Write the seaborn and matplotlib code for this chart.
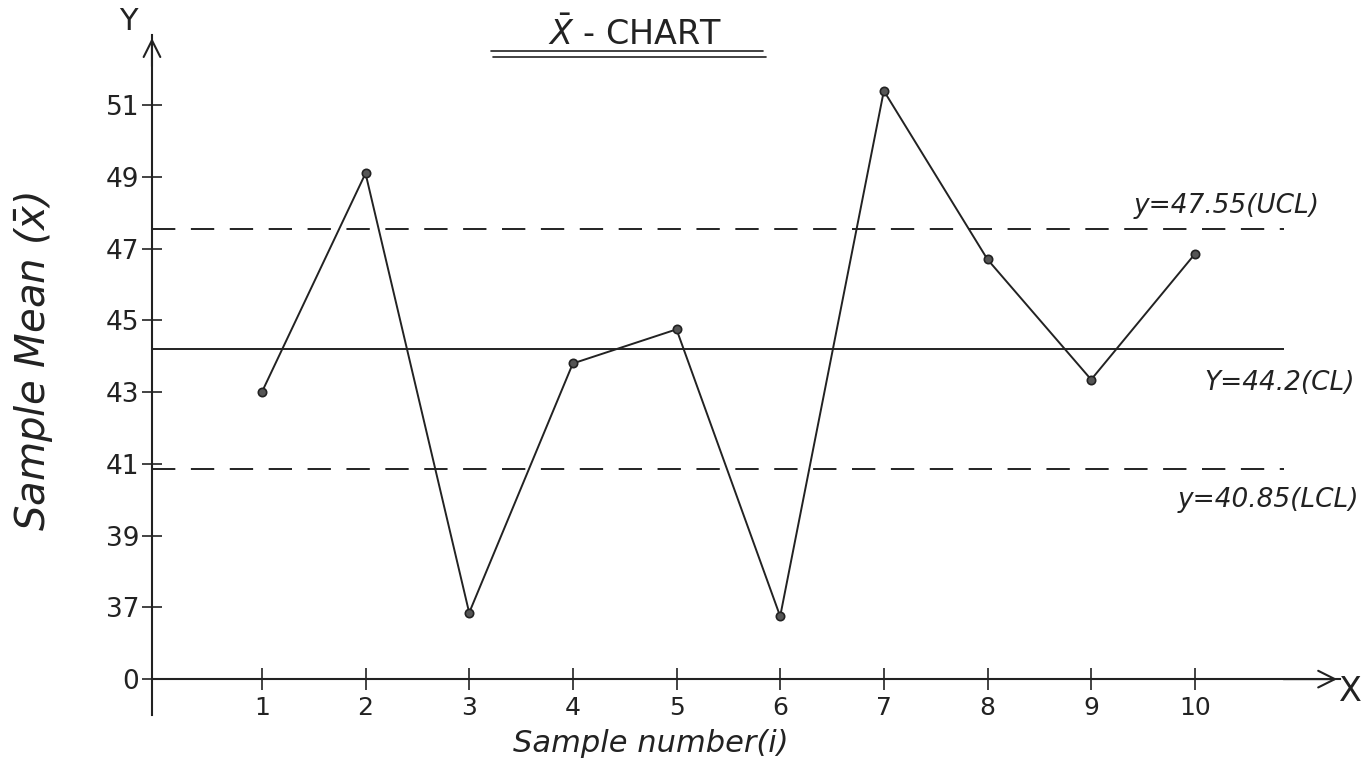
import matplotlib
matplotlib.use("Agg")
import matplotlib.pyplot as plt
import matplotlib.transforms as mtransforms
import seaborn as sns
import pandas as pd

# Sample means for the X-bar control chart
samples = [1, 2, 3, 4, 5, 6, 7, 8, 9, 10]
sample_means = [43.0, 49.1, 36.85, 43.8, 44.75, 36.75, 51.4, 46.7, 43.35, 46.85]

# Control limits
ucl = 47.55
cl = 44.2
lcl = 40.85

# Broken value axis: the origin "0" sits just below 37
y_tick_values = [35, 37, 39, 41, 43, 45, 47, 49, 51]
y_tick_labels = ["0", "37", "39", "41", "43", "45", "47", "49", "51"]

sns.set_style("white")
plt.rcParams["font.family"] = ["DejaVu Sans"]

fig = plt.figure(figsize=(13.63, 7.66), dpi=100)
ax = fig.add_axes([0.1115, 0.0666, 0.8716, 0.8874])

df = pd.DataFrame({"sample": samples, "mean": sample_means})
sns.lineplot(data=df, x="sample", y="mean", ax=ax, color="#222222", linewidth=1.4,
             marker="o", markersize=6, markerfacecolor="#555555",
             markeredgecolor="#222222", markeredgewidth=1.2)

ax.set_xlim(-0.06, 11.4)
ax.set_ylim(34.0, 52.95)

# Control lines
line_end = 10.86
ax.hlines(ucl, -0.06, line_end, colors="#222222", linewidth=1.4, linestyles=(0, (12, 8)))
ax.hlines(cl, -0.06, line_end, colors="#222222", linewidth=1.4)
ax.hlines(lcl, -0.06, line_end, colors="#222222", linewidth=1.4, linestyles=(0, (12, 8)))

# Axes drawn as arrows: vertical spine on the left, horizontal axis at the origin
for side in ["top", "right"]:
    ax.spines[side].set_visible(False)
ax.spines["left"].set_color("#222222")
ax.spines["left"].set_linewidth(1.5)
ax.spines["bottom"].set_position(("data", 35))
ax.spines["bottom"].set_color("#222222")
ax.spines["bottom"].set_linewidth(1.5)

ax.annotate("", xy=(0, 1.0), xytext=(0, 0.95), xycoords="axes fraction",
            arrowprops=dict(arrowstyle="->", color="#222222", lw=1.5,
                            mutation_scale=30))
ax.annotate("", xy=(1.0, 35), xytext=(0.95, 35),
            xycoords=ax.get_yaxis_transform(),
            arrowprops=dict(arrowstyle="->", color="#222222", lw=1.5,
                            mutation_scale=30))

ax.set_xticks(samples)
ax.set_xticklabels([str(s) for s in samples], fontsize=18, color="#222222")
ax.set_yticks(y_tick_values)
ax.set_yticklabels(y_tick_labels, fontsize=19, color="#222222")
ax.tick_params(axis="x", direction="inout", length=16, width=1.2, pad=4,
               color="#222222", bottom=True)
ax.tick_params(axis="y", direction="inout", length=14, width=1.2, pad=2,
               color="#222222", left=True)

ax.set_xlabel("Sample number(i)", fontsize=22, style="italic", color="#222222",
              labelpad=8)
ax.set_ylabel(r"Sample Mean ($\bar{x}$)", fontsize=29, style="italic",
              color="#222222")
ax.yaxis.set_label_coords(-0.082, 0.52)
ax.xaxis.set_label_coords(0.42, -0.02)

# Axis names at the arrow heads
fig.text(0.094, 0.972, "Y", fontsize=22, color="#222222", ha="center", va="center")
fig.text(0.991, 0.097, "X", fontsize=24, color="#222222", ha="center", va="center")

# Limit labels on the right (x in figure fraction, y in data units)
label_tf = mtransforms.blended_transform_factory(fig.transFigure, ax.transData)
ax.text(0.968, 48.2, "y=47.55(UCL)", fontsize=19, style="italic",
        color="#222222", ha="right", va="center", transform=label_tf)
ax.text(0.994, 43.25, "Y=44.2(CL)", fontsize=19, style="italic",
        color="#222222", ha="right", va="center", transform=label_tf)
ax.text(0.997, 39.98, "y=40.85(LCL)", fontsize=19, style="italic",
        color="#222222", ha="right", va="center", transform=label_tf)

# Title with double underline
fig.text(0.466, 0.955, r"$\bar{X}$ - CHART", fontsize=24, color="#222222",
         ha="center", va="center")
fig.add_artist(plt.Line2D([0.36, 0.56], [0.933, 0.933], color="#222222", lw=1.2))
fig.add_artist(plt.Line2D([0.362, 0.562], [0.925, 0.925], color="#222222", lw=1.2))

fig.savefig("out.png", dpi=100, facecolor="white")
